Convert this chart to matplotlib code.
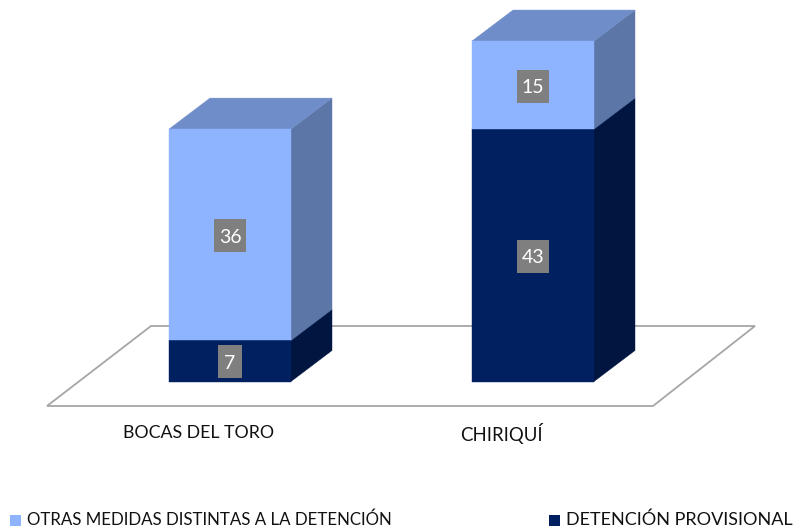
import matplotlib
matplotlib.use("Agg")
import matplotlib.pyplot as plt
from matplotlib.patches import Polygon, Rectangle

categories = ["BOCAS DEL TORO", "CHIRIQUÍ"]
detencion = [7, 43]
otras = [36, 15]
series_names = ["OTRAS MEDIDAS DISTINTAS A LA DETENCIÓN", "DETENCIÓN PROVISIONAL"]

W, H = 796, 531
plt.rcParams["font.family"] = ["Lato", "DejaVu Sans"]
fig = plt.figure(figsize=(W / 100, H / 100), dpi=100)
ax = fig.add_axes([0, 0, 1, 1])
ax.axis("off")

PX_Y = 5.87      # pixels per value unit
PX_X = 303.0     # pixels per category
BASE_PY = 381.5
C0_PX = 230.0
ax.set_xlim(-C0_PX / PX_X, (W - C0_PX) / PX_X)
ax.set_ylim(-(H - BASE_PY) / PX_Y, BASE_PY / PX_Y)

DX = 41 / PX_X
DY = 31 / PX_Y
BW = 122 / PX_X

def px(x, y):
    return ((x - C0_PX) / PX_X, (BASE_PY - y) / PX_Y)

# floor
ax.add_patch(Polygon([px(47, 406), px(653, 406), px(755, 326), px(151, 326)],
                     closed=True, fc="white", ec="#A6A6A6", lw=1.3, zorder=1))

LIGHT = ("#8FB4FF", "#6F8DC8", "#5C76A8")
DARK = ("#002060", "#001A4D", "#001540")

def box(x, y0, y1, cols, z):
    l, r = x - BW / 2, x + BW / 2
    ax.add_patch(Polygon([(r, y0), (r + DX, y0 + DY), (r + DX, y1 + DY), (r, y1)],
                         closed=True, fc=cols[2], ec=cols[2], lw=0.3, zorder=z))
    ax.add_patch(Polygon([(l, y1), (r, y1), (r + DX, y1 + DY), (l + DX, y1 + DY)],
                         closed=True, fc=cols[1], ec=cols[1], lw=0.3, zorder=z))
    ax.add_patch(Rectangle((l, y0), BW, y1 - y0, fc=cols[0], ec=cols[0], lw=0.3, zorder=z))

for i, (d, o) in enumerate(zip(detencion, otras)):
    box(i, 0, d, DARK, 2)
    box(i, d, d + o, LIGHT, 3)
    for y, v in ((d / 2, d), (d + o / 2, o)):
        txt = str(v)
        bw = (24 if len(txt) == 1 else 32) / PX_X
        bh = 33 / PX_Y
        yc = y - 1 / PX_Y
        ax.add_patch(Rectangle((i - bw / 2, yc - bh / 2), bw, bh, fc="#7F7F7F", ec="none", zorder=5))
        ax.text(i, yc, txt, color="white", fontsize=14, ha="center", va="center_baseline", zorder=6)
    ax.text(i - 0.105, px(0, 433)[1], categories[i], fontsize=12.8 if i == 0 else 13.4,
            color="#111111", ha="center", va="center")

# legend
def legend_item(x_sq, x_txt, label, col, fs):
    x0, y0 = px(x_sq, 526)
    ax.add_patch(Rectangle((x0, y0), 11 / PX_X, 11 / PX_Y, fc=col, ec="none"))
    ax.text(px(x_txt, 0)[0], px(0, 520)[1], label, fontsize=fs, color="#111111",
            ha="left", va="center")

legend_item(10, 27, series_names[0], LIGHT[0], 12.2)
legend_item(549, 566, series_names[1], DARK[0], 13.0)

fig.savefig("out.png", dpi=100)
